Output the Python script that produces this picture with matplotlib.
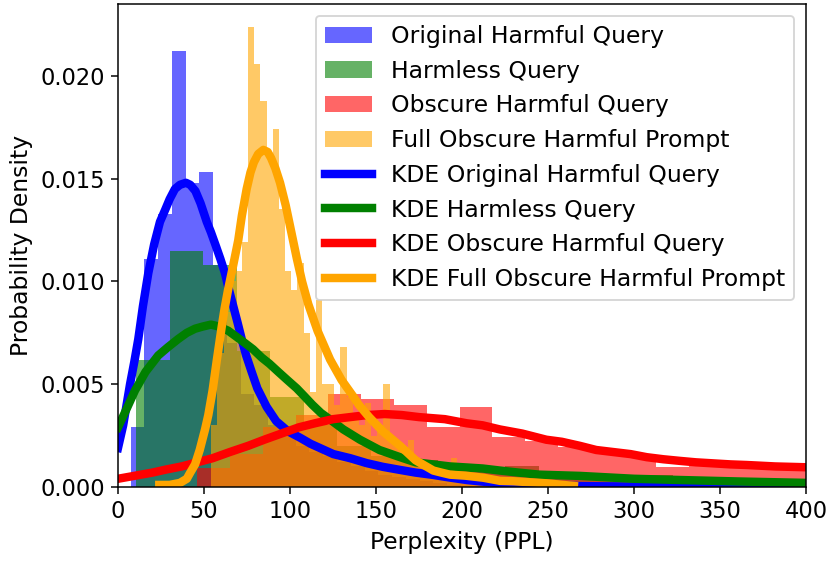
import matplotlib
matplotlib.use("Agg")
import matplotlib.pyplot as plt
import numpy as np

plt.rcParams["font.size"] = 12

# histogram data (density)
orig_start, orig_width = 7.3, 8.0
orig_hist = [0.0029, 0.0111, 0.0133, 0.0212, 0.0148, 0.0153, 0.0108, 0.0070,
             0.0045, 0.0040, 0.0030, 0.0025, 0.0020, 0.0017, 0.0015, 0.0012,
             0.0010, 0.0008, 0.0006, 0.0005, 0.0004, 0.0003, 0.0002, 0.0001]

harmless_start, harmless_width = 10.6, 19.5
harmless_hist = [0.0062, 0.0115, 0.0108, 0.0066, 0.0044, 0.0030, 0.0020, 0.0015,
                 0.0013, 0.0011, 0.0009, 0.0010, 0.0007, 0.0006, 0.0005, 0.0006,
                 0.0004, 0.0003, 0.0003, 0.0003, 0.0002]

obscure_start, obscure_width = 46.0, 19.07
obscure_hist = [0.0009, 0.0016, 0.0029, 0.0035, 0.0045, 0.0043, 0.0040, 0.0029,
                0.0039, 0.00245, 0.00224, 0.00197, 0.00166, 0.00146, 0.00098,
                0.00104, 0.0010, 0.0009, 0.0009, 0.0008]

full_start, full_width = 54.2, 3.576
full_hist = [0.0030, 0.0065, 0.0085, 0.0100, 0.0105, 0.0119, 0.0224, 0.0206,
             0.0188, 0.0160, 0.0174, 0.0135, 0.0105, 0.0096, 0.0109, 0.0075,
             0.0046, 0.0091, 0.0050, 0.0050, 0.0040, 0.0068, 0.0044, 0.0035,
             0.0030, 0.0041, 0.0025, 0.0030, 0.0050, 0.0022, 0.0020, 0.0018,
             0.0023, 0.0012, 0.0010, 0.0008, 0.0007, 0.0006, 0.0005, 0.0014,
             0.0004, 0.0004, 0.0003, 0.0003, 0.0002, 0.0002, 0.0002, 0.0001,
             0.0001, 0.0001, 0.0001, 0.0001, 0.0001, 0.0001, 0.0001, 0.0001,
             0.0001, 0.0001]

# KDE curves
orig_kde_x = [0, 3, 7, 9.5, 11.8, 14.5, 17.6, 21, 24.4, 27.5, 30, 33.1, 36,
              39.5, 42, 45, 48, 51.6, 54, 57, 59.5, 62.2, 64.5, 67, 69.5, 71.9,
              74.5, 77.7, 81, 86.4, 92, 99, 105.8, 112, 125.2, 135, 144.6, 154,
              164, 173, 183, 192, 202.7, 212, 222, 230, 240, 260, 300, 400]
orig_kde_y = [0.0019, 0.0030, 0.0050, 0.0061, 0.0072, 0.0088, 0.0104, 0.0118,
              0.0129, 0.0135, 0.0140, 0.0145, 0.0147, 0.0148, 0.0147, 0.0144,
              0.0138, 0.0129, 0.0124, 0.0117, 0.0111, 0.0104, 0.0096, 0.0088,
              0.0080, 0.0072, 0.0064, 0.0056, 0.0048, 0.0039, 0.0032, 0.0027,
              0.0024, 0.0021, 0.0016, 0.0014, 0.00116, 0.00098, 0.00083,
              0.0007, 0.00059, 0.00047, 0.00034, 0.00026, 0.00018, 0.00013,
              0.0001, 0.00005, 0.00002, 0.0]

harmless_kde_x = [0, 5, 9.9, 16, 23.4, 29, 35, 40, 44.8, 49, 54, 59, 64.1, 69,
                  73.8, 78.5, 83.5, 88, 93.2, 98.5, 103.9, 108.5, 113, 118, 123,
                  131, 140.7, 152, 164, 173, 183, 193, 202.7, 212, 222, 233,
                  245, 268.6, 300, 326.7, 360, 400]
harmless_kde_y = [0.0029, 0.0038, 0.0047, 0.0056, 0.0064, 0.0068, 0.0072,
                  0.0075, 0.0077, 0.0078, 0.0079, 0.0078, 0.0076, 0.0073,
                  0.0070, 0.0067, 0.0063, 0.0060, 0.0056, 0.0052, 0.0048,
                  0.0044, 0.0040, 0.0036, 0.0033, 0.0028, 0.0023, 0.0018,
                  0.00145, 0.0012, 0.0011, 0.0010, 0.00095, 0.0009, 0.0008,
                  0.0007, 0.0006, 0.00054, 0.0004, 0.00034, 0.00027, 0.0002]

obscure_kde_x = [0, 10, 20, 28, 37, 46, 55, 65, 75.6, 85, 95, 105, 114.5, 125,
                 134.9, 145, 155, 165, 175, 190, 202.7, 212, 222, 235, 249, 258,
                 268.6, 278, 288, 298, 307.4, 317, 326.7, 336, 346, 356, 365.5,
                 382, 400]
obscure_kde_y = [0.0004, 0.00055, 0.0007, 0.00085, 0.0010, 0.0012, 0.0014,
                 0.0017, 0.0020, 0.0023, 0.0026, 0.0029, 0.0031, 0.0033,
                 0.0034, 0.0035, 0.00355, 0.0035, 0.0034, 0.0033, 0.0031,
                 0.0030, 0.0028, 0.0026, 0.0023, 0.0022, 0.0020, 0.0018,
                 0.0017, 0.0016, 0.00145, 0.00135, 0.00127, 0.0012, 0.00115,
                 0.0011, 0.00107, 0.0010, 0.00096]

full_kde_x = [24, 30, 36, 40, 42, 44.8, 47.5, 50.6, 52.5, 55, 57.5, 60.3, 62,
              64, 67, 69.9, 72, 74.8, 77, 79, 81.5, 84.5, 87, 89, 91.5, 94.2,
              97.5, 101, 104, 107, 110.6, 116, 123.3, 130, 136.8, 140, 146,
              154, 164, 173, 183.3, 188, 193, 202, 212.4, 222, 230, 249, 265]
full_kde_y = [0.0001, 0.0001, 0.0002, 0.0004, 0.0007, 0.0011, 0.0018, 0.0028,
              0.0035, 0.0047, 0.0062, 0.0078, 0.0087, 0.0096, 0.0108, 0.0120,
              0.0132, 0.0145, 0.0153, 0.0158, 0.0162, 0.0164, 0.0163, 0.0160,
              0.0155, 0.0148, 0.0137, 0.0123, 0.0111, 0.0100, 0.0089, 0.0076,
              0.0062, 0.0052, 0.0044, 0.0040, 0.0034, 0.0027, 0.0020, 0.0013,
              0.0008, 0.0007, 0.0006, 0.00055, 0.00045, 0.0003, 0.00028,
              0.00018, 0.00005]

names = ["Original Harmful Query", "Harmless Query", "Obscure Harmful Query",
         "Full Obscure Harmful Prompt"]
colors = ["blue", "green", "red", "orange"]
hists = [(orig_start, orig_width, orig_hist),
         (harmless_start, harmless_width, harmless_hist),
         (obscure_start, obscure_width, obscure_hist),
         (full_start, full_width, full_hist)]
kdes = [(orig_kde_x, orig_kde_y), (harmless_kde_x, harmless_kde_y),
        (obscure_kde_x, obscure_kde_y), (full_kde_x, full_kde_y)]

fig = plt.figure(figsize=(831 / 135, 563 / 135), dpi=135)
ax = fig.add_axes([0.142, 0.135, 0.828, 0.858])

bar_handles = []
for name, color, (start, width, heights) in zip(names, colors, hists):
    left = start + width * np.arange(len(heights))
    b = ax.bar(left, heights, width=width, align="edge", color=color,
               alpha=0.6, linewidth=0, label=name)
    bar_handles.append(b)

line_handles = []
for name, color, (kx, ky) in zip(names, colors, kdes):
    ln, = ax.plot(kx, ky, color=color, lw=4.5, solid_joinstyle="round",
                  label="KDE " + name)
    line_handles.append(ln)

ax.set_xlim(0, 400)
ax.set_ylim(0, 0.0235)
ax.set_yticks([0, 0.005, 0.010, 0.015, 0.020])
ax.yaxis.set_major_formatter(matplotlib.ticker.FormatStrFormatter("%.3f"))
ax.set_xlabel("Perplexity (PPL)", fontsize=12.5)
ax.set_ylabel("Probability Density", fontsize=12.5)
ax.legend(handles=bar_handles + line_handles, loc="upper right", fontsize=12.5)

fig.savefig("out.png", dpi=135)
